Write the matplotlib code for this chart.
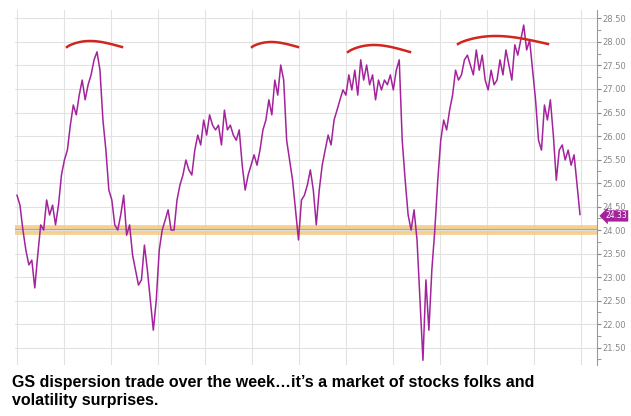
import numpy as np
import matplotlib
matplotlib.use("Agg")
import matplotlib.pyplot as plt
from matplotlib.ticker import MultipleLocator

values = [24.74,24.53,24.0,23.57,23.26,23.36,22.77,23.47,24.11,24.0,24.64,24.32,24.53,24.11,24.53,25.17,25.49,25.70,26.23,26.66,
26.45,26.87,27.19,26.77,27.09,27.30,27.62,27.79,27.40,26.34,25.70,24.85,24.64,24.11,24.0,24.32,24.74,23.89,24.11,23.47,
23.15,22.83,22.94,23.68,23.15,22.51,21.87,22.51,23.57,24.0,24.21,24.43,24.0,24.0,24.64,24.96,25.17,25.49,25.28,25.17,
25.70,26.02,25.81,26.34,26.02,26.45,26.23,26.13,26.23,25.81,26.55,26.13,26.23,26.02,25.91,26.13,25.38,24.85,25.17,25.38,
25.60,25.38,25.70,26.13,26.34,26.77,26.45,27.19,26.87,27.51,27.19,25.91,25.49,25.06,24.43,23.79,24.64,24.74,24.96,25.28,
24.85,24.11,24.85,25.38,25.70,26.02,25.81,26.34,26.55,26.77,26.98,26.87,27.30,26.98,27.40,26.87,27.62,27.19,27.51,27.09,
27.30,26.77,27.19,26.98,27.19,27.09,27.30,26.98,27.40,27.62,25.91,25.06,24.32,24.0,24.43,23.79,22.51,21.23,22.94,21.87,
23.15,24.0,25.06,25.91,26.34,26.13,26.55,26.87,27.40,27.19,27.30,27.62,27.72,27.51,27.30,27.83,27.40,27.72,27.19,26.98,
27.40,27.09,27.19,27.62,27.30,27.83,27.51,27.19,27.94,27.72,28.04,28.36,27.83,28.04,27.40,26.77,25.91,25.70,26.66,26.34,
26.77,26.02,25.06,25.70,25.81,25.49,25.70,25.38,25.60,24.96,24.33]
band_level = 24.0
last_label = "24.33"
caption = "GS dispersion trade over the week…it’s a market of stocks folks and\nvolatility surprises."

n = len(values)
x = np.arange(n)
W, H = 631, 416
fig = plt.figure(figsize=(W/100, H/100), dpi=100)
ax = fig.add_axes([15/W, 1-365/H, (597-15)/W, 355/H])
slope = (580-17)/(n-1)
ax.set_xlim(-2/slope, (n-1) + 17/slope)
ax.set_ylim(21.13, 28.68)

ax.yaxis.tick_right()
ax.yaxis.set_major_locator(MultipleLocator(0.5))
ax.yaxis.set_minor_locator(MultipleLocator(0.25))
ax.yaxis.set_major_formatter(matplotlib.ticker.FormatStrFormatter('%.2f'))
ax.tick_params(axis='y', which='both', labelsize=6, colors='#888888', length=3, pad=1)
ax.tick_params(axis='x', bottom=False, labelbottom=False)
for s in ['top', 'left', 'bottom']:
    ax.spines[s].set_visible(False)
ax.spines['right'].set_color('#999999')
ax.grid(axis='y', which='major', color='#e2e2e2', lw=0.8)
for gx in np.arange(0, 600, 47):
    ax.axvline(gx / slope, color='#e2e2e2', lw=0.8, zorder=0)

ax.axhline(band_level, color='#f5c77e', lw=7, alpha=0.85, zorder=1)
ax.axhline(band_level + 0.03, color='#7fbf9f', lw=0.8, zorder=2)
ax.plot(x, values, color='#a3239c', lw=1.1, zorder=3)

ax.annotate(last_label, xy=(1.0, values[-1]), xycoords=('axes fraction', 'data'),
            xytext=(6, -1), textcoords='offset points', fontsize=5.5, color='white', va='center',
            bbox=dict(boxstyle='larrow,pad=0.15', fc='#a3239c', ec='none'))

# hand-drawn red arcs
for (x0, x1, yb, h) in [(67, 122, 47, 6), (252, 298, 47, 5), (348, 410, 52, 7), (458, 548, 44, 8)]:
    px = np.linspace(x0, x1, 40)
    t = (px - x0) / (x1 - x0)
    py = yb - h * np.sin(np.pi * t**0.8)
    fig.lines.append(plt.Line2D(px / W, 1 - py / H, color='#d0261e', lw=1.8, transform=fig.transFigure))

fig.text(12/W, 1-392/H, caption, fontsize=11.5, fontweight='bold', family='Liberation Sans',
         va='center', linespacing=1.25)
fig.savefig('out.png', dpi=100)
